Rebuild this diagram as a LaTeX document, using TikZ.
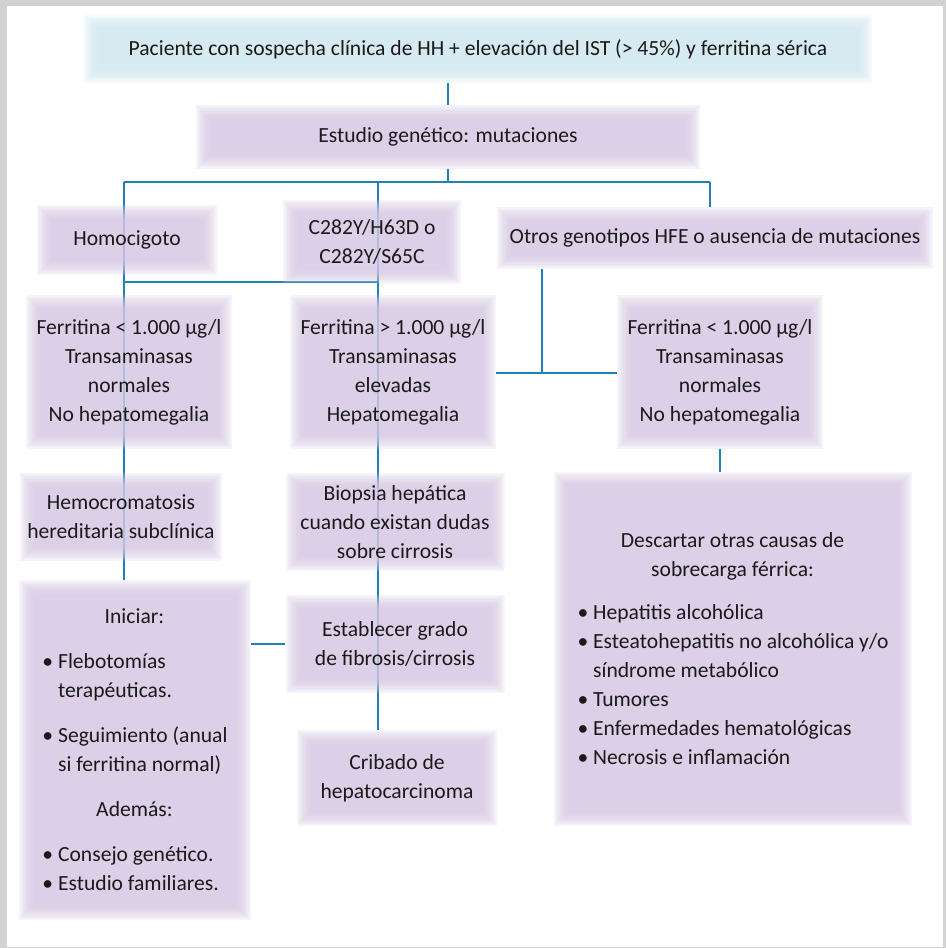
\documentclass[tikz,border=0pt]{standalone}
\usepackage{fontspec}
\setmainfont{Carlito}
\usetikzlibrary{backgrounds}
\definecolor{lav}{RGB}{214,200,228}
\definecolor{sky}{RGB}{208,231,240}
\definecolor{wireblue}{RGB}{32,128,184}
\definecolor{ink}{RGB}{26,26,26}

\begin{document}
\begin{tikzpicture}[x=1pt, y=-1pt,
  font=\fontsize{21.6}{29}\selectfont, text=ink,
  box/.style={inner sep=0pt, align=center,
    path picture={\foreach \k in {0,...,7}
      \fill[#1, fill opacity=0.2]
        ([shift={(\k*2pt,-\k*2pt)}]path picture bounding box.north west) rectangle
        ([shift={(-\k*2pt,\k*2pt)}]path picture bounding box.south east);}},
  box/.default=lav,
  sz/.style 2 args={minimum width=#1pt, minimum height=#2pt},
  wire/.style={draw=wireblue, line width=1.4pt}]
\useasboundingbox (0,0) rectangle (946,948);

\node[box=sky, sz={788}{68}] (top) at (478,49)
     {Paciente con sospecha clínica de HH + elevación del IST (> 45\%) y ferritina sérica};
\node[box, sz={504}{64}] (gen) at (448,137) {Estudio genético: mutaciones};

\node[box, sz={180}{70}]  (homo)  at (127,240) {Homocigoto};
\node[box, sz={178}{84}]  (c282)  at (372,242) {C282Y/H63D o\\ C282Y/S65C};
\node[box, sz={436}{62}]  (otros) at (715,238) {Otros genotipos HFE o ausencia de mutaciones};

\node[box, sz={206}{154}] (ferL) at (129,372)
     {Ferritina < 1.000 µg/l\\ Transaminasas\\ normales\\ No hepatomegalia};
\node[box, sz={206}{154}] (ferM) at (393,372)
     {Ferritina > 1.000 µg/l\\ Transaminasas\\ elevadas\\ Hepatomegalia};
\node[box, sz={206}{154}] (ferR) at (720,372)
     {Ferritina < 1.000 µg/l\\ Transaminasas\\ normales\\ No hepatomegalia};

\node[box, sz={202}{88}] (hemo)  at (121,517) {Hemocromatosis\\ hereditaria subclínica};
\node[box, sz={219}{98}] (biop)  at (395,522) {Biopsia hepática\\ cuando existan dudas\\ sobre cirrosis};
\node[box, sz={219}{98}] (estab) at (395,644) {Establecer grado\\ de fibrosis/cirrosis};
\node[box, sz={200}{96}] (crib)  at (397,778) {Cribado de\\ hepatocarcinoma};

\node[box, sz={232}{340}, align=left] (inic) at (135,750)
     {\makebox[184pt]{Iniciar:}\\[16pt]
      \textbullet\ Flebotomías\\
      \hphantom{\textbullet\ }terapéuticas.\\[16pt]
      \textbullet\ Seguimiento (anual\\
      \hphantom{\textbullet\ }si ferritina normal)\\[16pt]
      \makebox[184pt]{Además:}\\[16pt]
      \textbullet\ Consejo genético.\\
      \textbullet\ Estudio familiares.};
\node[box, sz={358}{354}, align=left] (desc) at (733,649)
     {\makebox[310pt]{Descartar otras causas de}\\
      \makebox[310pt]{sobrecarga férrica:}\\[14pt]
      \textbullet\ Hepatitis alcohólica\\
      \textbullet\ Esteatohepatitis no alcohólica y/o\\
      \hphantom{\textbullet\ }síndrome metabólico\\
      \textbullet\ Tumores\\
      \textbullet\ Enfermedades hematológicas\\
      \textbullet\ Necrosis e inflamación};

\coordinate (jL) at (124,182);
\coordinate (jM) at (378,182);
\coordinate (jR) at (710,182);
\coordinate (kL) at (124,282);
\coordinate (kM) at (378,282);
\coordinate (jO) at (542,373);

\begin{scope}[on background layer]
  % frame
  \fill[gray!35] (0,0) rectangle (946,948);
  \fill[white] (7,6) rectangle (943,947);
  % connectors
  \draw[wire] (gen.north |- top.south) -- (gen.north);
  \draw[wire] (gen.south) -- (gen.south |- jL);
  \draw[wire] (jL) -- (jR);
  \draw[wire] (jR) -- (jR |- otros.north);
  \draw[wire] (jL) -- (jL |- inic.north);
  \draw[wire] (kL) -- (kM);
  \draw[wire] (jM) -- (jM |- crib.north);
  \draw[wire] (jO |- otros.south) -- (jO);
  \draw[wire] (ferM.east |- jO) -- (ferR.west |- jO);
  \draw[wire] (ferR.south) -- (ferR.south |- desc.north);
  \draw[wire] (inic.east |- estab.west) -- (estab.west);
\end{scope}
\end{tikzpicture}
\end{document}
